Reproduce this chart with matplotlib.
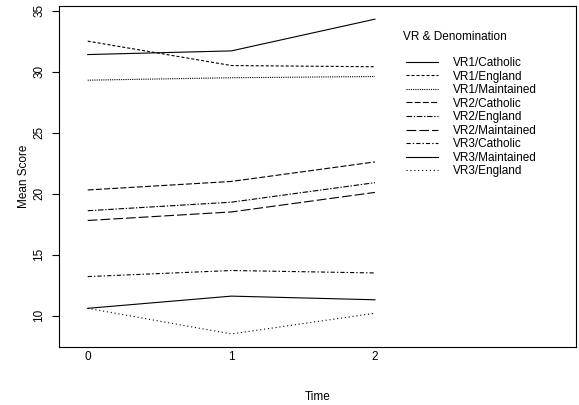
import matplotlib
matplotlib.use('Agg')
import matplotlib.pyplot as plt

plt.rcParams['font.family'] = ['Liberation Sans', 'DejaVu Sans']
plt.rcParams['lines.scale_dashes'] = False

# Data
time_levels = [0, 1, 2]
series_names = ['VR1/Catholic', 'VR1/England', 'VR1/Maintained',
                'VR2/Catholic', 'VR2/England', 'VR2/Maintained',
                'VR3/Catholic', 'VR3/Maintained', 'VR3/England']
vr1_catholic = [31.4, 31.7, 34.3]
vr1_england = [32.5, 30.5, 30.4]
vr1_maintained = [29.3, 29.5, 29.6]
vr2_catholic = [20.3, 21.0, 22.6]
vr2_england = [18.6, 19.3, 20.9]
vr2_maintained = [17.8, 18.5, 20.1]
vr3_catholic = [13.2, 13.7, 13.5]
vr3_maintained = [10.6, 11.6, 11.3]
vr3_england = [10.6, 8.5, 10.2]
series_values = [vr1_catholic, vr1_england, vr1_maintained,
                 vr2_catholic, vr2_england, vr2_maintained,
                 vr3_catholic, vr3_maintained, vr3_england]

# line styles (in points, not scaled by width)
styles = ['-', (0, (2.2, 1.4)), (0, (0.8, 0.8)),
          (0, (4.3, 1.6)), (0, (4, 1.2, 1, 1.2)), (0, (7, 2.2)),
          (0, (3, 1.5, 1, 1.5)), '-', (0, (0.8, 2))]

fs = 8.5

fig = plt.figure(figsize=(5.79, 4.05), dpi=100)
ax = fig.add_axes([59 / 579, 58 / 405, 517 / 579, 341 / 405])

handles = []
for name, vals, ls in zip(series_names, series_values, styles):
    h, = ax.plot(time_levels, vals, color='black', lw=0.8, linestyle=ls, label=name)
    handles.append(h)

ax.set_xlim(-0.2, 3.4)
ax.set_ylim(7.43, 35.38)
ax.set_xticks(time_levels)
ax.set_xticklabels([str(t) for t in time_levels])
ax.set_yticks([10, 15, 20, 25, 30, 35])
ax.tick_params(axis='x', length=0, pad=3, labelsize=fs)
ax.tick_params(axis='y', length=5, width=0.8, pad=5, labelsize=fs)
for lab in ax.get_yticklabels():
    lab.set_rotation(90)
    lab.set_va('center')
for sp in ax.spines.values():
    sp.set_linewidth(0.8)

ax.set_xlabel('Time', fontsize=fs, labelpad=20)
ax.set_ylabel('Mean Score', fontsize=fs, labelpad=2)

ax.text(403, 405 - 37, 'VR & Denomination', fontsize=fs, ha='left', va='center',
        transform=None)
leg = ax.legend(handles=handles, loc='upper left', frameon=False,
                bbox_to_anchor=((406 - 59) / 517, (347 - 57) / 341),
                fontsize=fs, handlelength=2.75, handletextpad=1.25,
                labelspacing=0.13, borderpad=0, borderaxespad=0)

fig.savefig('out.png', dpi=100)
